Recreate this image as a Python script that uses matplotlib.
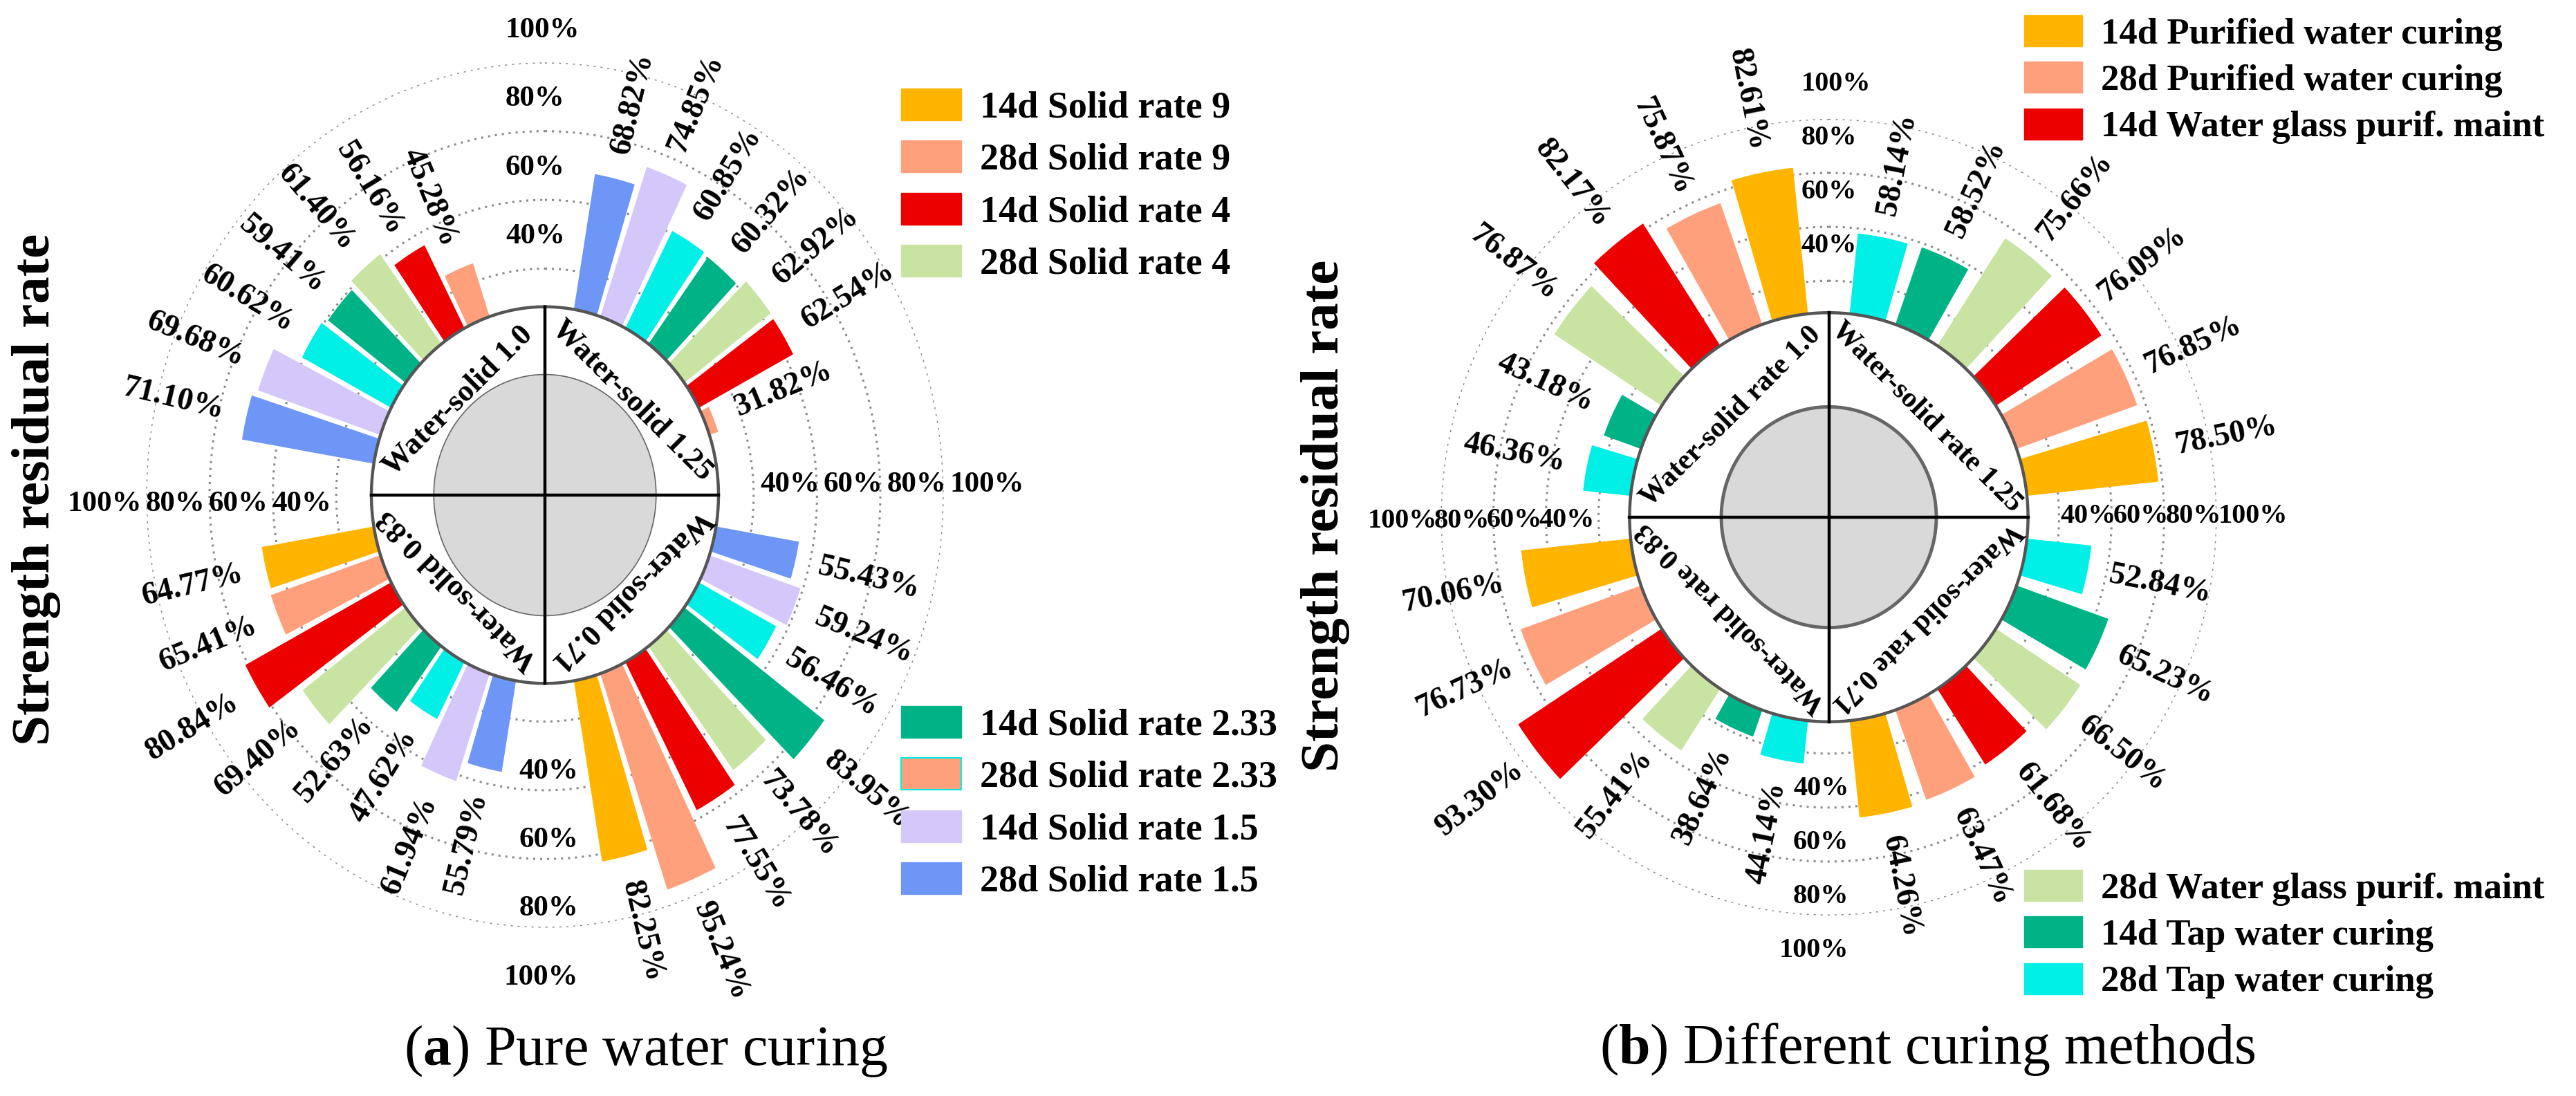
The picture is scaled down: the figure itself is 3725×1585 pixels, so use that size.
import numpy as np
import matplotlib
matplotlib.use('Agg')
import matplotlib.pyplot as plt
from matplotlib.patches import Patch
from matplotlib import transforms

plt.rcParams['font.family'] = ['Liberation Serif', 'DejaVu Serif']
plt.rcParams['mathtext.fontset'] = 'custom'
plt.rcParams['mathtext.rm'] = 'Liberation Serif'
plt.rcParams['mathtext.bf'] = 'Liberation Serif:bold'

## ---------------- data ----------------
## quadrants go clockwise from 12 o'clock
groups_a = ['Water-solid 1.25', 'Water-solid 0.71', 'Water-solid 0.83', 'Water-solid 1.0']
series_a = ['14d Solid rate 9', '28d Solid rate 9', '14d Solid rate 4', '28d Solid rate 4',
            '14d Solid rate 2.33', '28d Solid rate 2.33', '14d Solid rate 1.5', '28d Solid rate 1.5']
sr9_14d = [np.nan, 82.25, 64.77, np.nan]
sr9_28d = [31.82, 95.24, 65.41, 45.28]
sr4_14d = [62.54, 77.55, 80.84, 56.16]
sr4_28d = [62.92, 73.78, 69.40, 61.40]
sr233_14d = [60.32, 83.95, 52.63, 59.41]
sr233_28d = [60.85, 56.46, 47.62, 60.62]
sr15_14d = [74.85, 59.24, 61.94, 69.68]
sr15_28d = [68.82, 55.43, 55.79, 71.10]
values_a = [sr9_14d, sr9_28d, sr4_14d, sr4_28d, sr233_14d, sr233_28d, sr15_14d, sr15_28d]

groups_b = ['Water-solid rate 1.25', 'Water-solid rate 0.71', 'Water-solid rate 0.83', 'Water-solid rate 1.0']
series_b = ['14d Purified water curing', '28d Purified water curing', '14d Water glass purif. maint',
            '28d Water glass purif. maint', '14d Tap water curing', '28d Tap water curing']
pure_14d = [78.50, 64.26, 70.06, 82.61]
pure_28d = [76.85, 63.47, 76.73, 75.87]
glass_14d = [76.09, 61.68, 93.30, 82.17]
glass_28d = [75.66, 66.50, 55.41, 76.87]
tap_14d = [58.52, 65.23, 38.64, 43.18]
tap_28d = [58.14, 52.84, 44.14, 46.36]
values_b = [pure_14d, pure_28d, glass_14d, glass_28d, tap_14d, tap_28d]

grid_levels = [40, 60, 80, 100]
grid_labels = ['40%', '60%', '80%', '100%']

## colours
ORANGE, SALMON, RED, LGREEN = '#FFB400', '#FFA07C', '#EC0000', '#C8E3A2'
TEAL, CYAN, LAVENDER, BLUE = '#00B386', '#00EFE6', '#D4C7FA', '#6E96F6'
colors_a = [ORANGE, SALMON, RED, LGREEN, TEAL, CYAN, LAVENDER, BLUE]
colors_b = [ORANGE, SALMON, RED, LGREEN, TEAL, CYAN]

W, H = 3725, 1585
fig = plt.figure(figsize=(W / 100, H / 100), dpi=100)


def box(cx, cy, rx, ry):
    ## axes rectangle from a centre and two radii, in pixels from the top-left
    return [(cx - rx) / W, (H - cy - ry) / H, 2 * rx / W, 2 * ry / H]


def rose(ax, groups, values, colors, slot, bar_w, r0, ring, disk, lab_off,
         quad_r, fs_quad, disk_lw, fs_tick, tick_spec):
    ax.set_theta_zero_location('N')
    ax.set_theta_direction(-1)
    ax.set_ylim(r0, 100)
    ax.set_aspect('auto')
    ax.set_axis_off()
    t = np.linspace(0, 2 * np.pi, 721)

    ## dotted reference circles
    for g in grid_levels:
        ax.plot(t, np.full_like(t, g), color='#8a8a8a', lw=2.2, ls=(0, (1, 2.3)), zorder=1)

    n = len(values)
    first = (90 - slot * n) / 2 + slot / 2
    for i, (vals, col) in enumerate(zip(values, colors)):
        k = n - 1 - i
        for q, v in enumerate(vals):
            if np.isnan(v):
                continue
            th = q * 90 + first + slot * k
            ax.bar(np.radians(th), v - ring, width=np.radians(bar_w), bottom=ring,
                   color=col, edgecolor='none', zorder=2)
            if th < 180:
                rot, ha = 90 - th, 'left'
            else:
                rot, ha = 270 - th, 'right'
            ax.text(np.radians(th), v + lab_off, f'{v:.2f}%', rotation=rot,
                    rotation_mode='anchor', ha=ha, va='center', fontsize=33,
                    fontweight='bold', zorder=6)

    ## centre: white ring, grey disc, cross
    ax.fill(t, np.full_like(t, ring), color='white', zorder=3)
    ax.plot(t, np.full_like(t, ring), color='#555555', lw=3.2, zorder=4)
    ax.fill(t, np.full_like(t, disk), facecolor='#d9d9d9', edgecolor='#666666',
            lw=disk_lw, zorder=4)
    for a in [0, 90, 180, 270]:
        ax.plot([np.radians(a)] * 2, [r0, ring], color='black', lw=3.2, zorder=5)

    for q, name in enumerate(groups):
        th = 45 + 90 * q
        ax.text(np.radians(th), quad_r, name, rotation=-th, rotation_mode='anchor',
                ha='center', va='center', fontsize=fs_quad, fontweight='bold', zorder=6)

    ## radial tick labels on the four axes
    for th, shift, ha, dx, dy in tick_spec:
        tr = transforms.offset_copy(ax.transData, fig=fig, x=dx, y=dy, units='dots')
        for g, lab in zip(grid_levels, grid_labels):
            ax.text(np.radians(th), g + shift, lab, transform=tr, ha=ha, va='center',
                    fontsize=fs_tick, fontweight='bold', zorder=6)


## ---------------- panel (a) ----------------
ax_a = fig.add_axes(box(788, 716, 576.6, 625.7), projection='polar')
rose(ax_a, groups_a, values_a, colors_a, slot=9, bar_w=7.8, r0=-25.9, ring=28.9,
     disk=9.2, lab_off=7.5, quad_r=13, fs_quad=32, disk_lw=1.2, fs_tick=31,
     tick_spec=[(0, 9.3, 'left', -57, 0), (270, 1.5, 'right', 0, -13),
                (90, 2, 'left', 0, 15), (180, 14.5, 'right', 48, 0)])

## ---------------- panel (b) ----------------
ax_b = fig.add_axes(box(2644.5, 748, 561, 576), projection='polar')
rose(ax_b, groups_b, values_b, colors_b, slot=13.5, bar_w=10.5, r0=-47.6, ring=28.2,
     disk=-6.7, lab_off=8.5, quad_r=5, fs_quad=30, disk_lw=3.5, fs_tick=29,
     tick_spec=[(0, 13, 'left', -40, 0), (270, 1.5, 'right', 0, -5),
                (90, 0.6, 'left', 0, 2), (180, 13, 'right', 29, 0)])

## ---------------- legends ----------------
hand_a = [Patch(facecolor=c, edgecolor=c) for c in colors_a]
## the source figure draws the 28d 2.33 key as salmon with a cyan rim
hand_a[5] = Patch(facecolor=SALMON, edgecolor=CYAN, lw=1.5)
hand_b = [Patch(facecolor=c, edgecolor=c) for c in colors_b]

leg_kw = dict(loc='upper left', frameon=False, handletextpad=0.5, borderpad=0,
              borderaxespad=0, handlelength=1.6, handleheight=0.93)
fig.legend(hand_a[:4], series_a[:4], bbox_to_anchor=(1303 / W, 1 - 128 / H),
           prop={'weight': 'bold', 'size': 39}, labelspacing=0.4, **leg_kw)
fig.legend(hand_a[4:], series_a[4:], bbox_to_anchor=(1303 / W, 1 - 1021 / H),
           prop={'weight': 'bold', 'size': 39}, labelspacing=0.4, **leg_kw)
fig.legend(hand_b[:3], series_b[:3], bbox_to_anchor=(2927 / W, 1 - 22 / H),
           prop={'weight': 'bold', 'size': 38}, labelspacing=0.3, **leg_kw)
fig.legend(hand_b[3:], series_b[3:], bbox_to_anchor=(2927 / W, 1 - 1258 / H),
           prop={'weight': 'bold', 'size': 38}, labelspacing=0.3, **leg_kw)

## ---------------- axis titles and captions ----------------
fig.text(53 / W, 1 - 708 / H, 'Strength residual rate', rotation=90, ha='center',
         va='center', fontsize=57, fontweight='bold')
fig.text(1916 / W, 1 - 746 / H, 'Strength residual rate', rotation=90, ha='center',
         va='center', fontsize=57, fontweight='bold')
fig.text(934 / W, 1 - 1520 / H, r'($\mathbf{a}$) Pure water curing', ha='center',
         va='center', fontsize=59)
fig.text(2787 / W, 1 - 1517 / H, r'($\mathbf{b}$) Different curing methods', ha='center',
         va='center', fontsize=59)

fig.savefig('out.png', dpi=100)
